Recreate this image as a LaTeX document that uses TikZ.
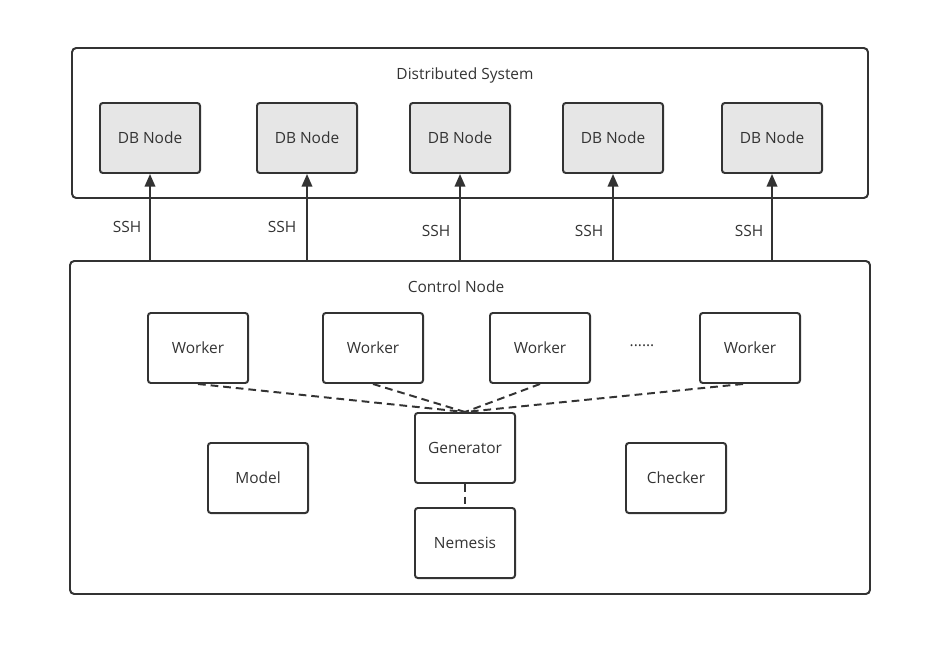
\documentclass[tikz,border=0pt]{standalone}
\usepackage{fontspec}
\setmainfont{Open Sans}
\usetikzlibrary{arrows.meta}
\definecolor{linea}{HTML}{333333}
\definecolor{relleno}{HTML}{E6E6E6}
\tikzset{
    caja/.style={draw=linea, line width=1.4pt, rounded corners=2pt, minimum width=2.5cm, minimum height=1.75cm, font=\fontsize{11}{13}\selectfont, text=linea},
    cajadb/.style={caja, fill=relleno},
    marco/.style={draw=linea, line width=1.4pt, rounded corners=3pt},
    texto/.style={font=\fontsize{11}{13}\selectfont, text=linea},
    ssh/.style={draw=linea, line width=1.4pt, -{Triangle[length=9pt,width=7.5pt]}},
    punteada/.style={draw=linea, line width=1.4pt, dash pattern=on 5.5pt off 3.5pt}
}
\begin{document}
\begin{tikzpicture}[x=0.025cm, y=-0.025cm]%Sistema distribuido y nodo de control
        \useasboundingbox (0,0) rectangle (932,657);

        \draw[marco] (72,48) rectangle (868,198);
        \node[texto] (sistema) at (465,75) {Distributed System};

        \node[cajadb] (db1) at (150,138) {DB Node};
        \node[cajadb] (db2) at (307,138) {DB Node};
        \node[cajadb] (db3) at (460,138) {DB Node};
        \node[cajadb] (db4) at (613,138) {DB Node};
        \node[cajadb] (db5) at (772,138) {DB Node};

        \draw[marco] (70,261) rectangle (870,594);
        \node[texto] (control) at (456,287) {Control Node};

        \coordinate (s1) at (150,261);
        \coordinate (s2) at (307,261);
        \coordinate (s3) at (460,261);
        \coordinate (s4) at (613,261);
        \coordinate (s5) at (772,261);

        \draw[ssh] (s1) -- (db1);
        \draw[ssh] (s2) -- (db2);
        \draw[ssh] (s3) -- (db3);
        \draw[ssh] (s4) -- (db4);
        \draw[ssh] (s5) -- (db5);

        \node[texto] (l1) at (127,227) {SSH};
        \node[texto] (l2) at (282,227) {SSH};
        \node[texto] (l3) at (436,231) {SSH};
        \node[texto] (l4) at (589,231) {SSH};
        \node[texto] (l5) at (749,231) {SSH};

        \node[caja] (w1) at (198,348) {Worker};
        \node[caja] (w2) at (373,348) {Worker};
        \node[caja] (w3) at (540,348) {Worker};
        \node[texto] (puntos) at (642,346) {......};
        \node[caja] (w4) at (750,348) {Worker};

        \node[caja] (gen) at (465,448) {Generator};
        \node[caja] (model) at (258,478) {Model};
        \node[caja] (check) at (676,478) {Checker};
        \node[caja] (nem) at (465,543) {Nemesis};

        \draw[punteada] (w1.south) -- (gen.north);
        \draw[punteada] (w2.south) -- (gen.north);
        \draw[punteada] (w3.south) -- (gen.north);
        \draw[punteada] ([xshift=-5]w4.south) -- (gen.north);
        \draw[punteada] (gen) -- (nem);
    \end{tikzpicture}
\end{document}
